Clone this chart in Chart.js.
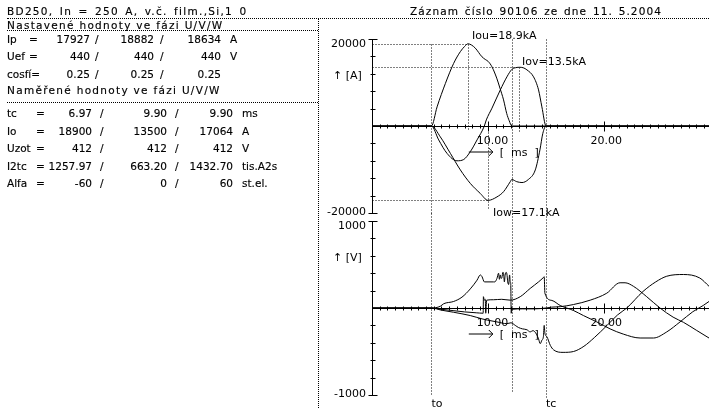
<!DOCTYPE html>
<html><head><meta charset="utf-8">
<script src="https://cdn.jsdelivr.net/npm/chart.js@4/dist/chart.umd.min.js"></script>
<style>
html,body{margin:0;padding:0;background:#fff;width:709px;height:408px;overflow:hidden;}
#wrap{position:relative;width:709px;height:408px;font-family:"DejaVu Sans",sans-serif;font-size:10.5px;color:#000;}
.t{position:absolute;white-space:pre;line-height:12px;-webkit-text-stroke:0.15px #000;}
.hd{position:absolute;border-top:1px dotted #000;height:0;}
.vd{position:absolute;border-left:1px dotted #000;width:0;}
canvas{position:absolute;left:0;top:0;}
</style></head>
<body><div id="wrap">
<canvas id="cI" width="709" height="408"></canvas>
<canvas id="cU" width="709" height="408"></canvas>
</div>
<script>
// ---------- header / table texts ----------
const headerLeft = 'BD250, In = 250 A, v.č. film.,Si,1 0';
const headerRight = 'Záznam číslo 90106 ze dne 11. 5.2004';
const presetTitle = 'Nastavené hodnoty ve fázi U/V/W';
const measuredTitle = 'Naměřené hodnoty ve fázi U/V/W';
const presetLabels = ['Ip', 'Uef', 'cosfí='];
const presetU = ['17927', '440', '0.25'];
const presetV = ['18882', '440', '0.25'];
const presetW = ['18634', '440', '0.25'];
const presetUnits = ['A', 'V', ''];
const measuredLabels = ['tc', 'Io', 'Uzot', 'I2tc', 'Alfa'];
const measuredU = ['6.97', '18900', '412', '1257.97', '-60'];
const measuredV = ['9.90', '13500', '412', '663.20', '0'];
const measuredW = ['9.90', '17064', '412', '1432.70', '60'];
const measuredUnits = ['ms', 'A', 'V', 'tis.A2s', 'st.el.'];

// ---------- chart data ----------
const timeTickLabels = ['10.00', '20.00'];
const switchTimes = [5.13, 12.07, 15.03];          // to, U zero, tc
const switchLabels = ['to', '', 'tc'];
const peakTimes = [8.29, 12.69, 10.02];
const peakValues = [18900, 13500, -17100];
const peakLabels = ['Iou=18.9kA', 'Iov=13.5kA', 'Iow=17.1kA'];

const tIU = [0, 5.13, 5.62, 6.34, 7.05, 7.63, 8.0, 8.29, 8.6, 8.92, 9.5, 9.78, 10.05, 10.36, 10.77, 11.05, 11.36, 11.63, 11.85, 12.07, 29.1];
const iU  = [0, 0, 4400, 9800, 14400, 17100, 18300, 18900, 18600, 17900, 15900, 15300, 14800, 13600, 11000, 8700, 6000, 2900, 1200, 0, 0];
const tIV = [0, 5.13, 5.76, 6.48, 7.34, 7.92, 8.49, 9.07, 9.7, 9.87, 10.36, 11.08, 11.65, 12.07, 12.4, 12.72, 13.05, 13.38, 13.95, 14.38, 14.67, 15.03, 29.1];
const iV  = [0, 0, -3200, -6300, -8000, -7700, -5900, -3200, 0, 1400, 4100, 8300, 11300, 13000, 13400, 13500, 13400, 12900, 11300, 8300, 4400, 0, 0];
const tIW = [0, 5.13, 5.9, 6.77, 7.63, 8.49, 9.35, 10.02, 10.79, 11.36, 11.94, 12.07, 12.5, 12.95, 13.5, 14.1, 14.5, 14.75, 15.03, 29.1];
const iW  = [0, 0, -2500, -6300, -10100, -13200, -15500, -17100, -16300, -15100, -12800, -12300, -12800, -13000, -12300, -10100, -5500, -1700, 0, 0];

const tVU = [0, 5.13, 5.9, 6.19, 7.05, 7.77, 8.49, 9.07, 9.35, 9.5, 9.7, 10.5, 10.6, 10.79, 10.93, 11.0, 11.08, 11.15, 11.22, 11.3, 11.36, 11.43, 11.5, 11.58, 11.65, 11.72, 11.8, 11.88, 11.94, 11.98, 12.02, 12.1, 13.0, 14.0, 15.03, 15.5, 16.25, 17.4, 18.84, 20.27, 21.42, 21.85, 22.57, 23.72, 24.87, 26.0, 26.9, 28.0, 29.1];
const vU  = [0, 0, 20, 49, 75, 125, 220, 320, 380, 360, 300, 300, 300, 340, 400, 330, 380, 340, 350, 410, 400, 300, 380, 410, 390, 300, 270, 380, 300, 280, -60, -15, -10, -10, 0, 10, 15, 40, 90, 170, 290, 290, 250, 130, 0, -105, -165, -255, -345];
const tVV = [0, 5.13, 6.0, 7.0, 8.0, 9.0, 9.6, 9.62, 9.7, 9.78, 9.82, 9.9, 10.5, 11.2, 11.94, 12.8, 13.66, 14.38, 14.8, 14.87, 14.93, 15.53, 16.25, 17.4, 18.26, 19.41, 20.56, 21.7, 23.15, 24.3, 25.45, 26.6, 27.7, 28.6, 29.1];
const vV  = [0, 0, -15, -30, -45, -55, -60, 130, 90, 100, -60, 90, 95, 100, 90, 130, 225, 300, 350, 360, 170, 87, 29, -29, -87, -160, -240, -300, -345, -345, -275, -160, -43, 29, 75];
const tVW = [0, 5.13, 6.0, 7.05, 8.49, 9.5, 10.0, 10.79, 11.65, 12.0, 12.37, 12.66, 13.0, 13.38, 13.66, 13.9, 14.2, 14.38, 14.53, 14.67, 14.8, 14.87, 14.93, 15.1, 15.4, 15.67, 16.5, 17.4, 18.3, 19.2, 20.3, 21.2, 22.0, 23.4, 24.5, 25.45, 26.9, 28.3, 29.1];
const vW  = [0, 0, -25, -49, -87, -125, -140, -160, -180, -170, -200, -225, -240, -250, -275, -260, -300, -355, -410, -370, -330, -200, -290, -330, -430, -480, -510, -500, -440, -340, -200, -80, 0, 190, 300, 365, 385, 345, 250];

// ---------- HTML texts ----------
const wrap = document.getElementById('wrap');
function txt(s, x, yc, right) {
  const d = document.createElement('div');
  d.className = 't'; d.textContent = s;
  d.style.top = (yc - 6) + 'px';
  if (right) d.style.right = (709 - x) + 'px'; else d.style.left = x + 'px';
  wrap.appendChild(d); return d;
}
function dot(cls, x, y, len) {
  const d = document.createElement('div'); d.className = cls;
  d.style.left = x + 'px'; d.style.top = y + 'px';
  if (cls === 'hd') d.style.width = len + 'px'; else d.style.height = len + 'px';
  wrap.appendChild(d);
}
const h1 = txt(headerLeft, 7, 11); h1.style.letterSpacing = '1.3px'; h1.style.wordSpacing = '1.7px';
const h2 = txt(headerRight, 410, 11); h2.style.letterSpacing = '1.1px'; h2.style.wordSpacing = '1.3px';
dot('hd', 7, 18, 702); dot('hd', 7, 30, 311); dot('hd', 7, 102, 311); dot('vd', 318, 18, 390);
txt(presetTitle, 7, 25).style.letterSpacing = '1.3px';
txt(measuredTitle, 7, 90).style.letterSpacing = '1.3px';
const presetY = [38.5, 56, 73.5];
presetLabels.forEach((l, i) => {
  const y = presetY[i];
  txt(l, 7, y); if (l.indexOf('=') < 0) txt('=', 29, y);
  txt(presetU[i], 90, y, true); txt('/', 95, y);
  txt(presetV[i], 154, y, true); txt('/', 160, y);
  txt(presetW[i], 221, y, true); txt(presetUnits[i], 230, y);
});
const measuredY = [113, 130.5, 148, 165.5, 182.5];
measuredLabels.forEach((l, i) => {
  const y = measuredY[i];
  txt(l, 7, y); txt('=', 36, y);
  txt(measuredU[i], 92, y, true); txt('/', 100, y);
  txt(measuredV[i], 167, y, true); txt('/', 175, y);
  txt(measuredW[i], 233, y, true); txt(measuredUnits[i], 242, y);
});

// ---------- charts ----------
const W = 709, xMax = 29.1;
const FONT = '11px "DejaVu Sans", sans-serif';
function pts(ts, vs) { return ts.map((t, i) => ({ x: t, y: vs[i] })); }
function ds(ts, vs) {
  return { data: pts(ts, vs), borderColor: '#000', borderWidth: 1, pointRadius: 0,
    fill: false, cubicInterpolationMode: 'monotone', clip: 4 };
}
function snap(v) { return Math.round(v) + 0.5; }
function seg(ctx, a, b, c, d) { ctx.moveTo(a, b); ctx.lineTo(c, d); }
function label(ctx, s, x, yc, align) { ctx.textAlign = align || 'left'; ctx.textBaseline = 'alphabetic'; ctx.fillText(s, x, yc + 4); }

function scopePlugin(o) {
  return {
    id: 'scope' + o.name,
    beforeDatasetsDraw(chart) {
      const ctx = chart.ctx, xs = chart.scales.x, ys = chart.scales.y;
      const x0 = snap(xs.getPixelForValue(0)), y0 = snap(ys.getPixelForValue(0));
      const yT = snap(ys.getPixelForValue(o.max)), yB = snap(ys.getPixelForValue(-o.max));
      ctx.save(); ctx.strokeStyle = '#000'; ctx.lineWidth = 1; ctx.beginPath();
      seg(ctx, x0, yT, x0, yB); seg(ctx, x0 - 4, yT, x0 + 5, yT); seg(ctx, x0 - 4, yB, x0 + 5, yB);
      for (let k = 1; k < o.divs * 2; k++) {
        if (k === o.divs) continue;
        const y = snap(ys.getPixelForValue(-o.max + k * o.max / o.divs));
        seg(ctx, x0 - 2, y, x0 + 3, y);
      }
      seg(ctx, x0, y0, W, y0);
      for (let k = 1; k * 10 / 15 <= xMax; k++) {
        const x = snap(xs.getPixelForValue(k * 10 / 15));
        const h = (k % 15 === 0) ? 5 : 2;
        seg(ctx, x, y0 - h, x, y0 + h);
      }
      ctx.stroke();
      ctx.setLineDash([1, 2]); ctx.beginPath();
      o.dotted(xs, ys, x0, y0, yT, yB, (a, b, c, d) => seg(ctx, a, b, c, d));
      ctx.stroke();
      ctx.restore();
    },
    afterDraw(chart) {
      const ctx = chart.ctx, xs = chart.scales.x, ys = chart.scales.y;
      const x0 = xs.getPixelForValue(0), y0 = snap(ys.getPixelForValue(0));
      const yT = ys.getPixelForValue(o.max), yB = ys.getPixelForValue(-o.max);
      ctx.save(); ctx.fillStyle = '#000'; ctx.strokeStyle = '#000'; ctx.font = FONT;
      label(ctx, String(o.max), x0 - 6, yT + 4, 'right');
      label(ctx, String(-o.max), x0 - 6, yB - 2, 'right');
      label(ctx, '\u2191 [' + o.unit + ']', 333, y0 - 52);
      const x10 = xs.getPixelForValue(10), x20 = xs.getPixelForValue(20);
      label(ctx, timeTickLabels[0], x10 - 11, y0 + 13);
      label(ctx, timeTickLabels[1], x20 - 13, y0 + 13);
      const ay = y0 + 25.5;
      ctx.beginPath(); ctx.lineWidth = 1;
      seg(ctx, x10 - 19, ay, x10 + 5, ay);
      seg(ctx, x10 + 1, ay - 4, x10 + 5, ay); seg(ctx, x10 + 5, ay, x10 + 1, ay + 4);
      ctx.stroke();
      label(ctx, '[  ms  ]', x10 + 12, ay);
      o.extra(ctx, xs, ys, x0, y0);
      ctx.restore();
    }
  };
}

function makeChart(id, sets, o, padTop, padBottom) {
  return new Chart(document.getElementById(id), {
    type: 'line',
    data: { datasets: sets },
    options: {
      responsive: false, animation: false, events: [],
      layout: { padding: { left: 372, right: 0, top: padTop, bottom: padBottom } },
      scales: {
        x: { type: 'linear', min: 0, max: xMax, display: false },
        y: { type: 'linear', min: -o.max, max: o.max, display: false }
      },
      plugins: { legend: { display: false }, tooltip: { enabled: false }, title: { display: false } }
    },
    plugins: [scopePlugin(o)]
  });
}

makeChart('cI', [ds(tIU, iU), ds(tIV, iV), ds(tIW, iW)], {
  name: 'I', max: 20000, divs: 5, unit: 'A',
  dotted(xs, ys, x0, y0, yT, yB, L) {
    peakTimes.forEach((t, i) => {
      const x = snap(xs.getPixelForValue(t)), y = snap(ys.getPixelForValue(peakValues[i]));
      L(x0, y, x, y);
      if (peakValues[i] > 0) L(x, y, x, y0 + 5); else L(x, y0, x, y + 10);
    });
    const yPeak = snap(ys.getPixelForValue(peakValues[0]));
    switchTimes.forEach((t, i) => {
      const x = snap(xs.getPixelForValue(t));
      L(x, i === 0 ? yPeak : yT, x, yB + 1);
    });
  },
  extra(ctx, xs, ys) {
    const offs = [[4, -9], [3, -6], [5, 12]];
    peakLabels.forEach((s, i) => {
      label(ctx, s, xs.getPixelForValue(peakTimes[i]) + offs[i][0], ys.getPixelForValue(peakValues[i]) + offs[i][1]);
    });
  }
}, 39, 408 - 213);

makeChart('cU', [ds(tVU, vU), ds(tVV, vV), ds(tVW, vW)], {
  name: 'U', max: 1000, divs: 5, unit: 'V',
  dotted(xs, ys, x0, y0, yT, yB, L) {
    const ends = [yB, yB - 2, yB + 2];
    switchTimes.forEach((t, i) => {
      const x = snap(xs.getPixelForValue(t));
      L(x, yT - 8, x, ends[i]);
    });
  },
  extra(ctx, xs, ys) {
    switchTimes.forEach((t, i) => {
      if (switchLabels[i]) label(ctx, switchLabels[i], xs.getPixelForValue(t), 403);
    });
  }
}, 221, 408 - 395);
</script>
</body></html>
